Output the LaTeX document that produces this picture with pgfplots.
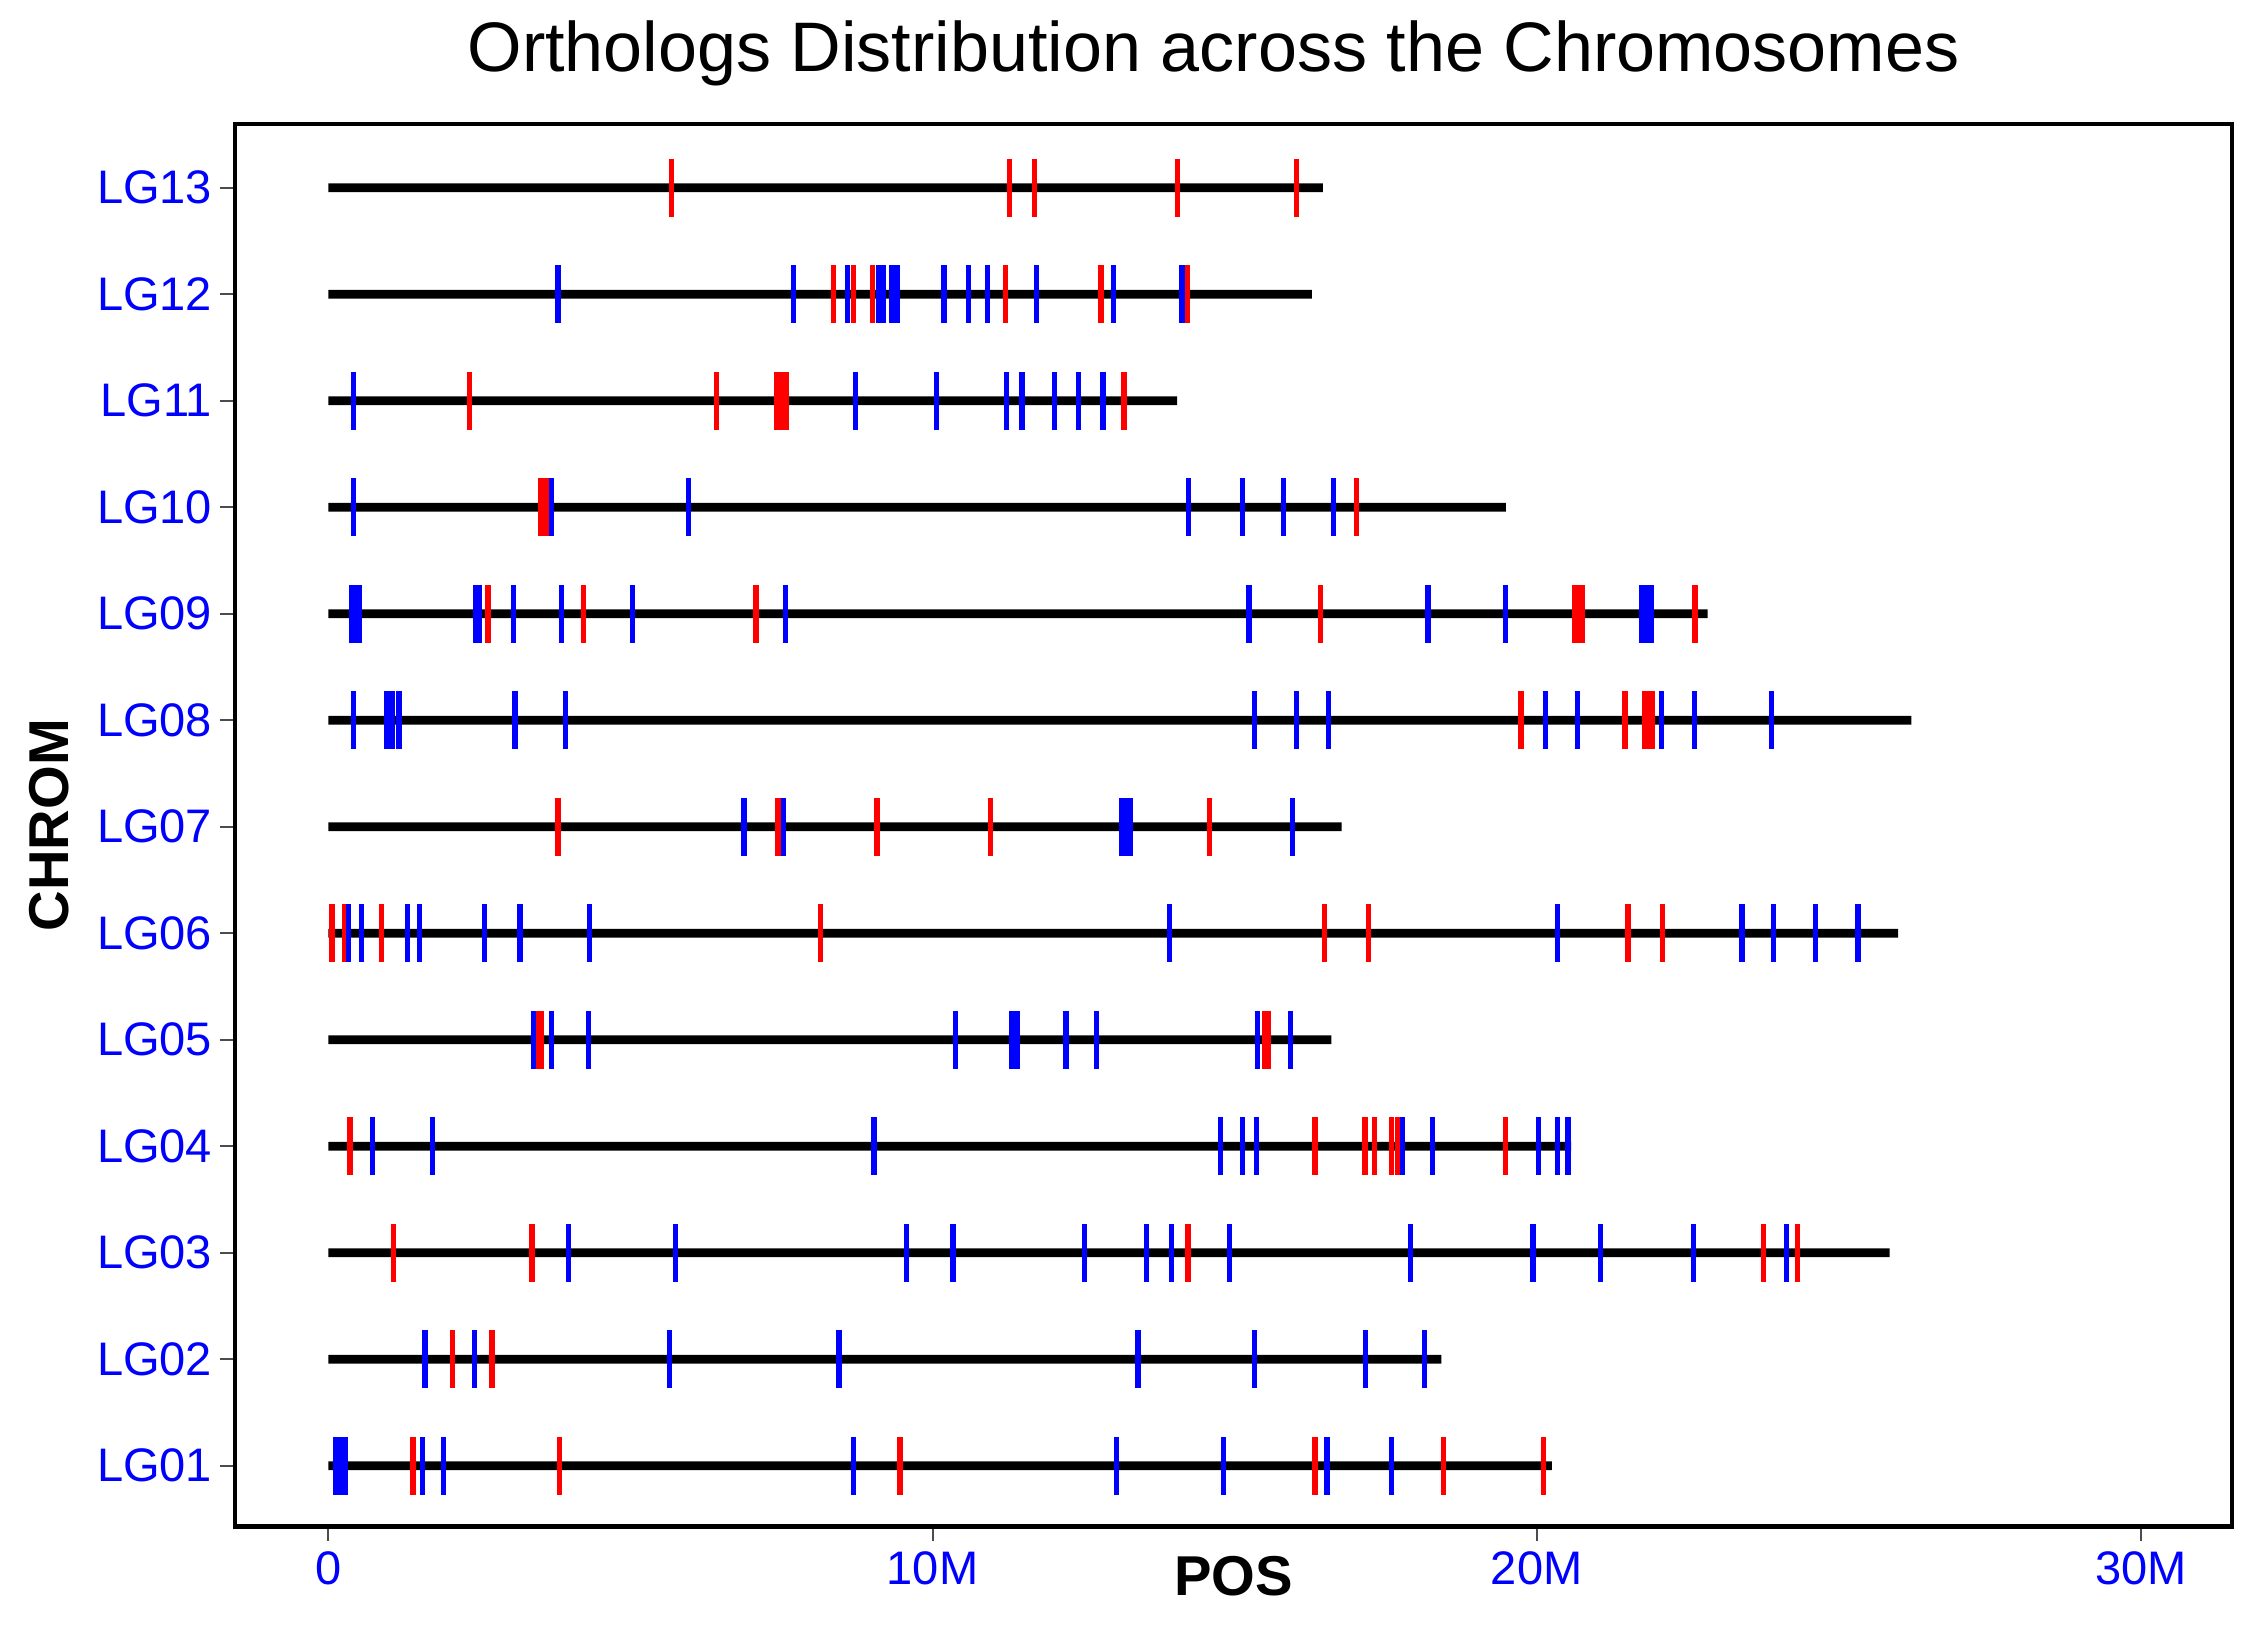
\documentclass[border=0pt]{standalone}
\usepackage{fontspec}
\setmainfont{Liberation Sans}
\usepackage{pgfplots}
\pgfplotsset{compat=1.18}
\begin{document}
\begin{tikzpicture}
\begin{axis}[
  scale only axis, width=416.1pt, height=292.2pt,
  xmin=-1.55, xmax=31.51, ymin=0.43, ymax=13.6,
  xtick={0,10,20,30}, xticklabels={0,10M,20M,30M},
  ytick={1,2,3,4,5,6,7,8,9,10,11,12,13},
  yticklabels={LG01,LG02,LG03,LG04,LG05,LG06,LG07,LG08,LG09,LG10,LG11,LG12,LG13},
  xtick pos=bottom, ytick pos=left,
  tick align=outside, major tick length=3pt,
  tick style={line width=0.4pt, gray!60!black},
  axis line style={line width=0.9pt},
  ticklabel style={font=\fontsize{9.8}{11}\selectfont, text=blue},
  yticklabel style={inner sep=1.5pt},
  xticklabel style={inner sep=2pt},
  /pgf/number format/assume math mode=true,
  xlabel={POS}, ylabel={CHROM},
  label style={font=\bfseries\fontsize{11.7}{13}\selectfont},
  xlabel style={at={(axis description cs:0.5,-0.0205)}, anchor=north, inner sep=0pt},
  ylabel style={at={(axis description cs:-0.093,0.5)}, anchor=center, inner sep=0pt},
  title={Orthologs Distribution across the Chromosomes},
  every axis title/.style={at={(axis description cs:0.49,1.037)}, anchor=base, inner sep=0pt, font=\fontsize{14.6}{17}\selectfont},
]
\coordinate (SW) at (rel axis cs:0,0);
\coordinate (NE) at (rel axis cs:1,1);
% chromosome lengths (M)
\addplot[xbar, bar width=1.8pt, fill=black, draw=none] coordinates {
 (20.25,1) (18.42,2) (25.84,3) (20.57,4) (16.60,5) (25.98,6) (16.77,7)
 (26.20,8) (22.83,9) (19.49,10) (14.05,11) (16.28,12) (16.46,13)};
% red orthologs
\addplot[only marks, mark=|, mark size=6pt, color=red, mark options={line width=1.1pt}] coordinates {
 (5.68,13) (11.27,13) (11.69,13) (14.05,13) (16.03,13)
 (8.36,12) (8.69,12) (9.01,12) (11.21,12) (12.79,12) (14.22,12)
 (2.34,11) (6.43,11) (7.42,11) (7.50,11) (7.58,11) (13.17,11)
 (3.52,10) (3.60,10) (17.02,10)
 (2.64,9) (4.22,9) (7.08,9) (16.42,9) (20.62,9) (20.70,9) (20.76,9) (22.62,9)
 (19.74,8) (21.46,8) (21.78,8) (21.86,8) (21.92,8)
 (3.80,7) (7.44,7) (9.08,7) (10.96,7) (14.59,7)
 (0.06,6) (0.27,6) (0.88,6) (8.14,6) (16.49,6) (17.21,6) (21.51,6) (22.08,6)
 (3.44,5) (3.52,5) (15.50,5) (15.56,5)
 (0.36,4) (16.33,4) (17.16,4) (17.31,4) (17.60,4) (17.70,4) (17.74,4) (19.48,4)
 (1.08,3) (3.37,3) (14.23,3) (23.75,3) (24.32,3)
 (2.05,2) (2.71,2)
 (1.40,1) (3.83,1) (9.46,1) (16.33,1) (18.46,1) (20.11,1)};
% blue orthologs
\addplot[only marks, mark=|, mark size=6pt, color=blue, mark options={line width=1.1pt}] coordinates {
 (3.80,12) (7.70,12) (8.59,12) (9.10,12) (9.19,12) (9.32,12) (9.41,12) (10.19,12) (10.60,12) (10.91,12) (11.72,12) (13.00,12) (14.13,12)
 (0.41,11) (8.72,11) (10.07,11) (11.23,11) (11.48,11) (12.02,11) (12.42,11) (12.82,11)
 (0.42,10) (3.69,10) (5.96,10) (14.24,10) (15.13,10) (15.81,10) (16.64,10)
 (0.38,9) (0.46,9) (0.52,9) (2.44,9) (2.50,9) (3.06,9) (3.86,9) (5.03,9) (7.57,9) (15.24,9) (18.20,9) (19.48,9) (21.74,9) (21.82,9) (21.90,9)
 (0.42,8) (0.97,8) (1.06,8) (1.17,8) (3.09,8) (3.93,8) (15.33,8) (16.03,8) (16.55,8) (20.14,8) (20.68,8) (22.07,8) (22.61,8) (23.89,8)
 (6.88,7) (7.53,7) (13.13,7) (13.20,7) (13.27,7) (15.96,7)
 (0.33,6) (0.55,6) (1.31,6) (1.51,6) (2.59,6) (3.17,6) (4.32,6) (13.92,6) (20.35,6) (23.40,6) (23.92,6) (24.62,6) (25.32,6)
 (3.40,5) (3.69,5) (4.30,5) (10.38,5) (11.31,5) (11.40,5) (12.21,5) (12.71,5) (15.38,5) (15.92,5)
 (0.73,4) (1.72,4) (9.03,4) (14.77,4) (15.13,4) (15.36,4) (17.78,4) (18.27,4) (20.03,4) (20.35,4) (20.52,4)
 (3.98,3) (5.74,3) (9.57,3) (10.34,3) (12.52,3) (13.54,3) (13.95,3) (14.91,3) (17.91,3) (19.94,3) (21.06,3) (22.59,3) (24.13,3)
 (1.60,2) (2.42,2) (5.65,2) (8.45,2) (13.40,2) (15.33,2) (17.17,2) (18.14,2)
 (0.12,1) (0.20,1) (0.28,1) (1.56,1) (1.90,1) (8.69,1) (13.04,1) (14.81,1) (16.53,1) (17.60,1)};
\end{axis}
\pgfresetboundingbox
\path[use as bounding box] ([shift={(-48.9pt,-20.7pt)}]SW) rectangle ([shift={(5.4pt,25.8pt)}]NE);
\end{tikzpicture}
\end{document}
